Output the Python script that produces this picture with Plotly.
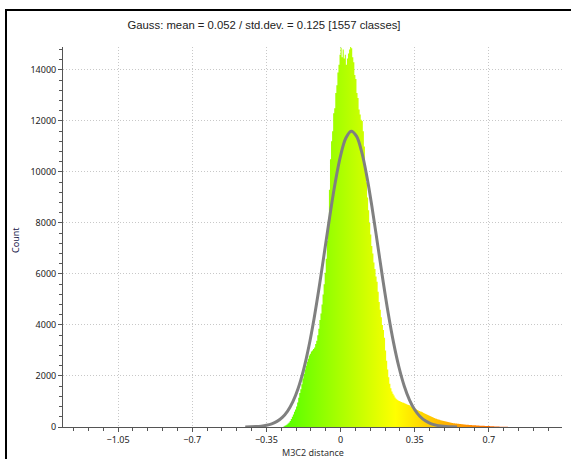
import numpy as np
import plotly.graph_objects as go

# ---------------- data ----------------
title_text = "Gauss: mean = 0.052 / std.dev. = 0.125 [1557 classes]"
x_label = "M3C2 distance"
y_label = "Count"

# histogram, bins of width 0.005 starting at -0.27
bin_start = -0.27
bin_width = 0.005
hist_counts = [
    20, 45, 70, 100, 140, 180, 240, 310, 400, 490,
    600, 690, 800, 960, 1150, 1330, 1480, 1680, 1900, 2080,
    2250, 2400, 2560, 2680, 2800, 2870, 2960, 3000, 3060, 3120,
    3250, 3380, 3600, 3850, 4200, 4450, 4800, 5200, 5600, 6050,
    6600, 7300, 8100, 9300, 10500, 11200, 11600, 12300, 12500, 13100,
    13400, 13900, 14200, 14600, 14870, 14500, 14800, 14450, 14600, 14200,
    14450, 14650, 14800, 14900, 14850, 14500, 14300, 13800, 13650, 13100,
    12900, 12450, 12250, 12050, 12000, 11600, 11000, 10300, 9600, 9000,
    8500, 8000, 7550, 7100, 6800, 6450, 6200, 5900, 5700, 5300,
    4900, 4600, 4300, 4000, 3800, 3500, 3000, 2600, 2250, 1950,
    1700, 1520, 1390, 1300, 1240, 1160, 1110, 1070, 1040, 1020,
    1000, 985, 965, 950, 930, 910, 890, 870, 860, 840,
    800, 780, 760, 740, 720, 700, 670, 650, 630, 610,
    600, 575, 550, 530, 510, 490, 470, 450, 430, 410,
    390, 370, 350, 335, 320, 305, 290, 280, 265, 255,
    245, 235, 225, 215, 205, 195, 185, 175, 165, 160,
    150, 145, 140, 135, 130, 125, 120, 115, 110, 105,
    100, 96, 92, 88, 85, 82, 79, 76, 73, 70,
    67, 64, 61, 58, 55, 53, 51, 49, 47, 45,
    43, 41, 39, 37, 35, 32, 30, 28, 26, 24,
    22, 20, 18, 16, 14, 12, 10, 9, 8, 7,
    6, 5, 4, 3,
]

# fitted gaussian curve
curve_x = [-0.45, -0.425, -0.40, -0.375, -0.35, -0.325, -0.30, -0.275, -0.25, -0.225,
           -0.20, -0.175, -0.15, -0.125, -0.10, -0.075, -0.05, -0.025, 0.0, 0.025,
           0.05, 0.075, 0.10, 0.125, 0.15, 0.175, 0.20, 0.225, 0.25, 0.275,
           0.30, 0.325, 0.35, 0.375, 0.40, 0.425, 0.45, 0.475, 0.50, 0.525, 0.55]
curve_y = [4, 8, 17, 34, 66, 123, 220, 379, 626, 996,
           1521, 2231, 3144, 4257, 5538, 6923, 8316, 9596, 10639, 11333,
           11600, 11405, 10775, 9781, 8531, 7149, 5755, 4451, 3308, 2363,
           1621, 1068, 676, 411, 241, 135, 73, 38, 19, 9, 4]

x_range = [-1.31, 1.045]
y_range = [0, 14900]
x_tick_step = 0.35
x_minor_step = 0.07
y_tick_step = 2000
y_minor_step = 400

# ---------------- figure ----------------
edges = bin_start + bin_width * np.arange(len(hist_counts) + 1)
step_y = hist_counts + [hist_counts[-1]]

colorscale = [[0.0, "#0000ff"], [1 / 3, "#00ff00"], [2 / 3, "#ffff00"], [1.0, "#ff0000"]]

fig = go.Figure()
fig.add_trace(go.Scatter(
    x=edges, y=step_y, mode="lines",
    line=dict(width=0, shape="hv"),
    fill="tozeroy",
    fillgradient=dict(type="horizontal", colorscale=colorscale,
                      start=x_range[0], stop=x_range[1]),
    hoverinfo="skip", showlegend=False,
))
fig.add_trace(go.Scatter(
    x=curve_x, y=curve_y, mode="lines",
    line=dict(color="#808080", width=3, shape="spline"),
    hoverinfo="skip", showlegend=False,
))

W, H = 571, 459
ml, mr, mt, mb = 63, 9, 47, 32
pw, ph = W - ml - mr, H - mt - mb

tickfont = dict(family="Noto Sans, DejaVu Sans, sans-serif", size=9, color="#222222")
axis_col = "#555555"
grid_col = "#c8c8c8"
grid_dash = "1px,2px"

fig.update_layout(
    width=W, height=H,
    margin=dict(l=ml, r=mr, t=mt, b=mb),
    paper_bgcolor="white", plot_bgcolor="white",
    showlegend=False,
    hovermode=False,
    title=dict(text=title_text, x=264 / W, xref="container", xanchor="center",
               y=1 - 25 / H, yref="container", yanchor="middle",
               font=dict(family="Liberation Sans, Arial, sans-serif", size=11.3, color="#222222")),
    xaxis=dict(range=x_range, tick0=0, dtick=x_tick_step, ticks="outside", ticklen=4,
               tickcolor=axis_col, showline=True, linecolor=axis_col, linewidth=1,
               showgrid=True, gridcolor=grid_col, griddash=grid_dash, gridwidth=1,
               zeroline=False, tickfont=tickfont,
               minor=dict(tick0=0, dtick=x_minor_step, ticks="outside", ticklen=3,
                          tickcolor=axis_col, showgrid=False)),
    yaxis=dict(range=y_range, tick0=0, dtick=y_tick_step, ticks="outside", ticklen=4,
               tickcolor=axis_col, showline=True, linecolor=axis_col, linewidth=1,
               showgrid=True, gridcolor=grid_col, griddash=grid_dash, gridwidth=1,
               zeroline=False, tickformat="d", tickfont=tickfont,
               minor=dict(tick0=0, dtick=y_minor_step, ticks="outside", ticklen=3,
                          tickcolor=axis_col, showgrid=False)),
)

fig.add_annotation(text=x_label, xref="paper", yref="paper",
                   x=0.5, y=-(452 - (H - mb)) / ph, showarrow=False,
                   xanchor="center", yanchor="middle",
                   font=dict(family="Noto Sans, DejaVu Sans, sans-serif", size=9, color="#333333"))
fig.add_annotation(text=y_label, xref="paper", yref="paper",
                   x=(15 - ml) / pw, y=(H - mb - 240) / ph, showarrow=False, textangle=-90,
                   xanchor="center", yanchor="middle",
                   font=dict(family="Noto Sans, DejaVu Sans, sans-serif", size=9, color="#1a1a4a"))

# window frame (left and top border)
fig.add_shape(type="rect", xref="paper", yref="paper",
              x0=(6 - ml) / pw, x1=1.5, y0=-0.5, y1=(H - mb - 10) / ph,
              line=dict(color="black", width=2), layer="above")

fig.write_html("out.html", config={"displayModeBar": False, "staticPlot": True},
               post_script="document.body.style.margin='0';document.body.style.overflow='hidden';")
